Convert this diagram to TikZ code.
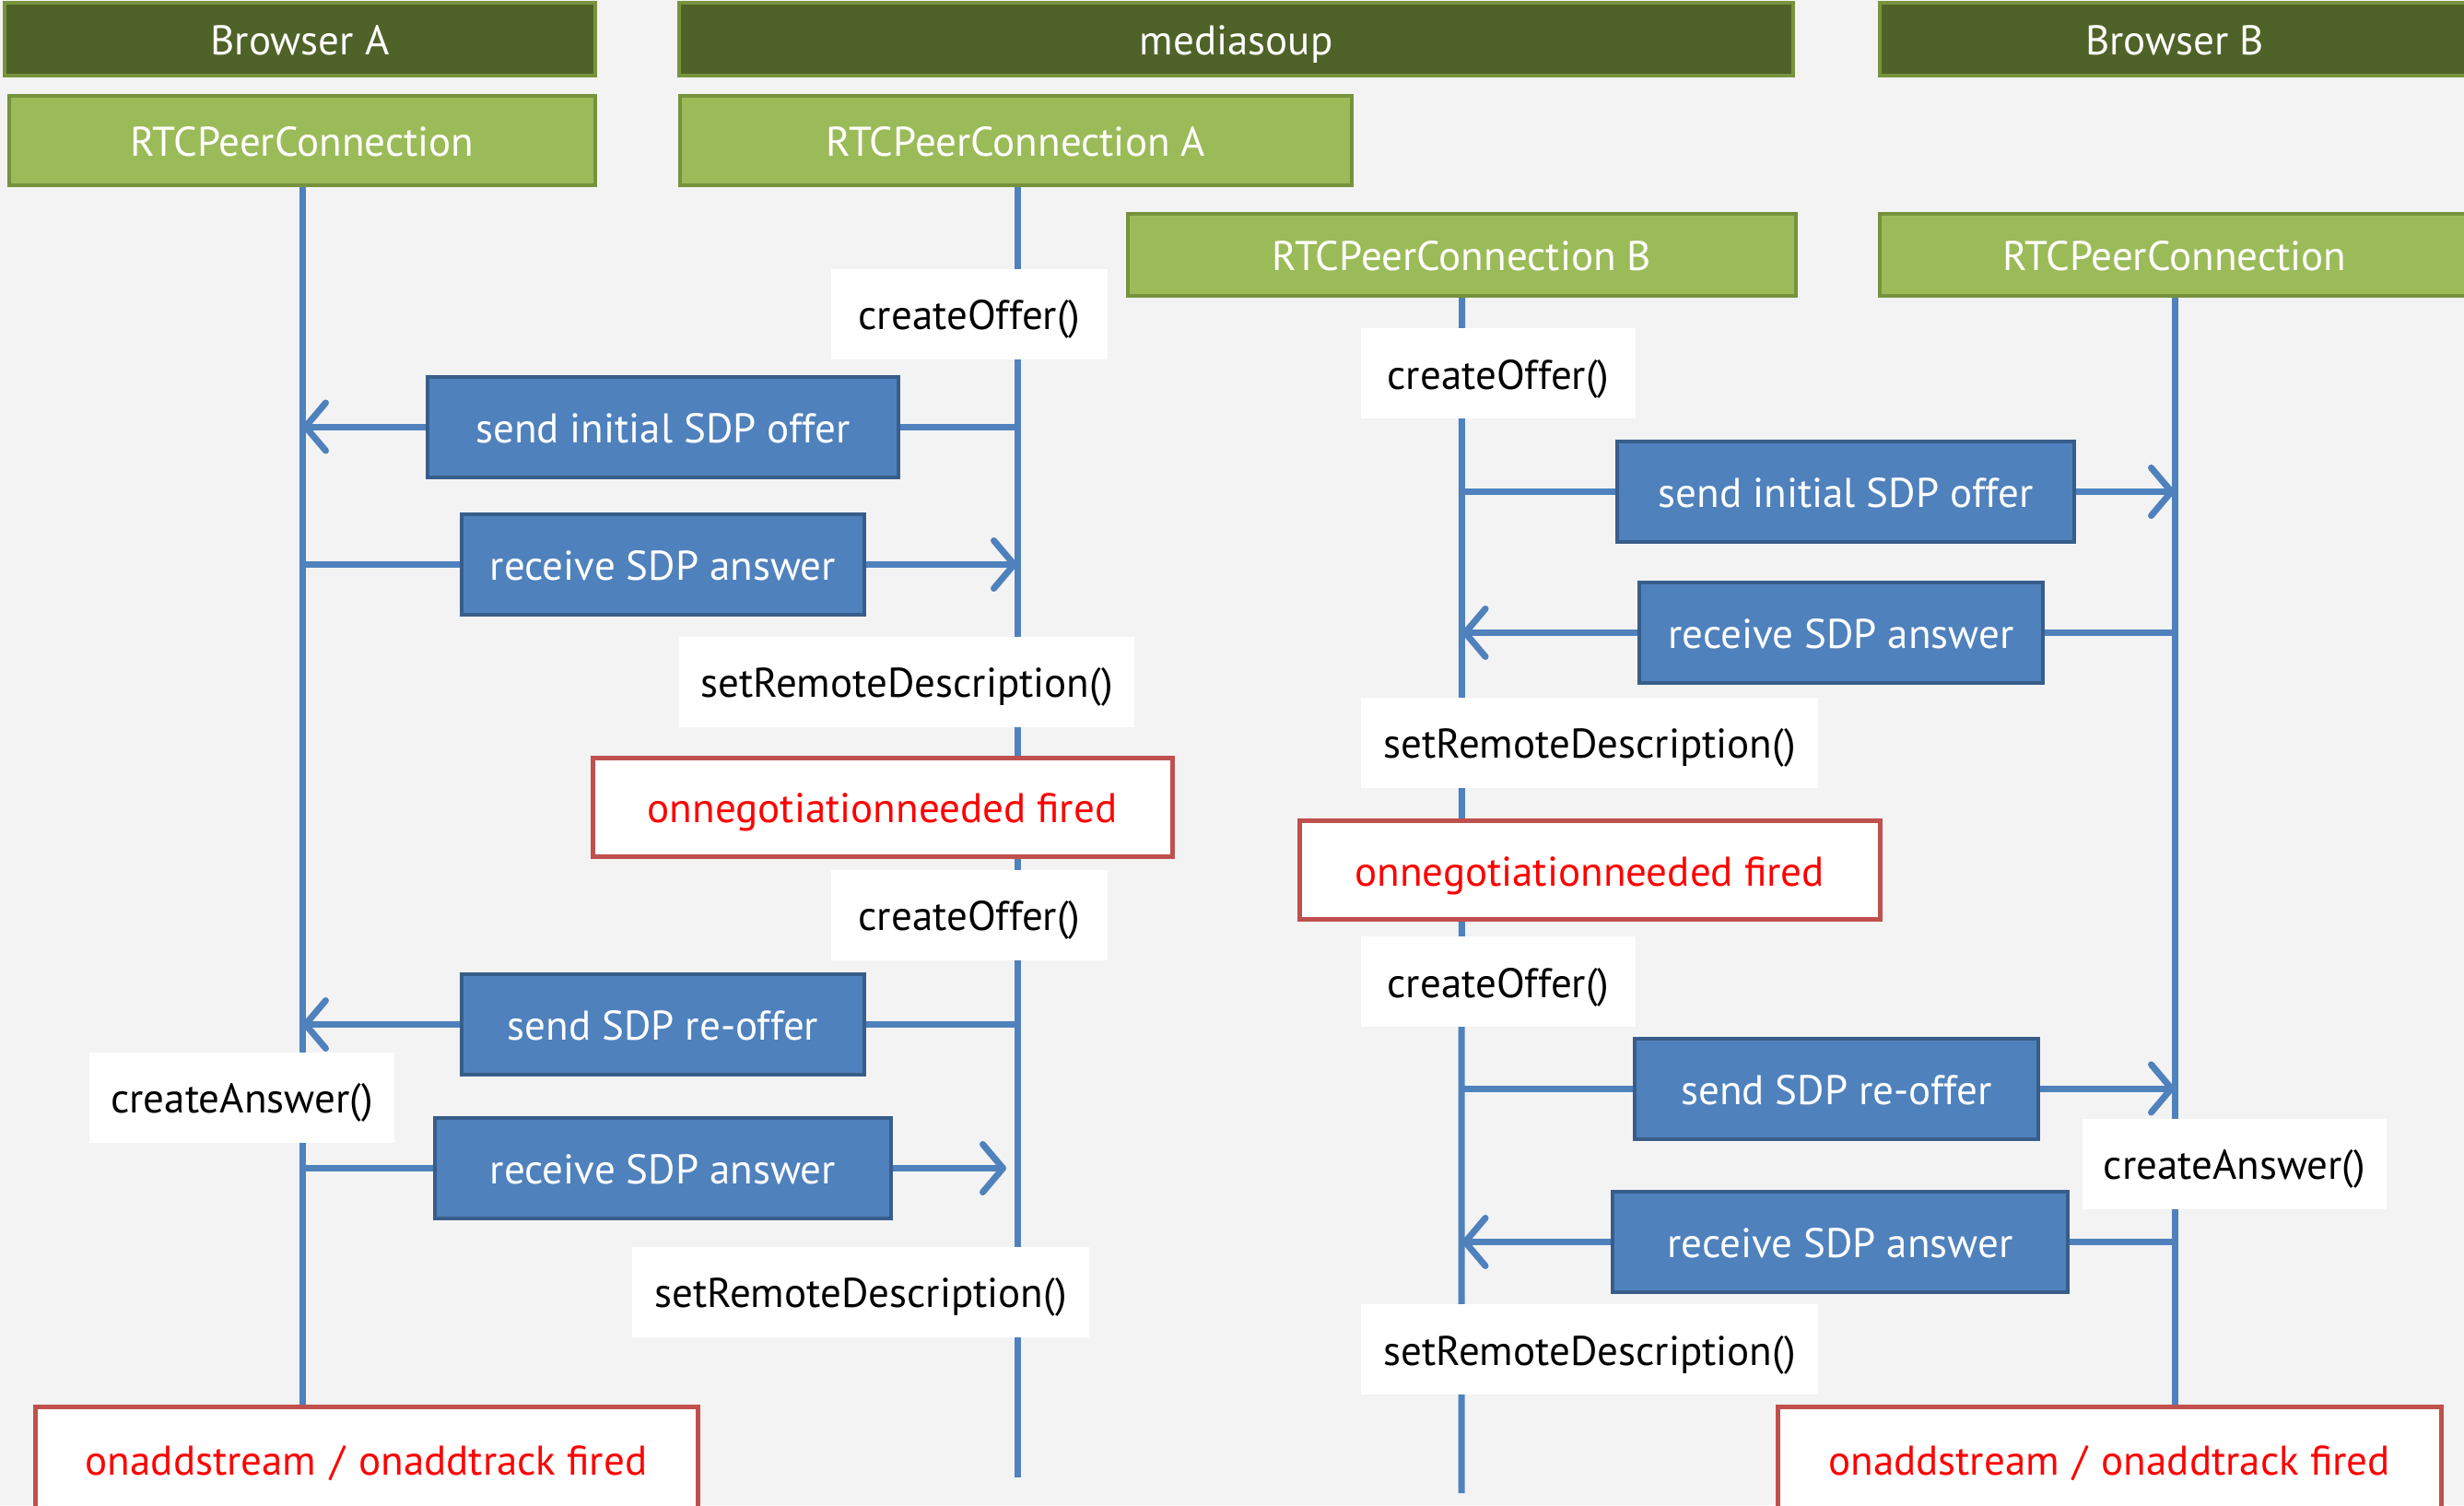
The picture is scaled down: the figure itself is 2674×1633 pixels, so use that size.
\documentclass[tikz,border=0pt]{standalone}
\usepackage{fontspec}
\setmainfont{PT Sans}
\usetikzlibrary{arrows.meta}
\definecolor{bgc}{HTML}{F3F3F3}
\definecolor{hdrf}{HTML}{4F6228}
\definecolor{hdrb}{HTML}{77933C}
\definecolor{rtcf}{HTML}{9BBB59}
\definecolor{rtcb}{HTML}{76923C}
\definecolor{msgf}{HTML}{4F81BD}
\definecolor{msgb}{HTML}{385D8A}
\definecolor{lifec}{HTML}{4F81BD}
\definecolor{evtb}{HTML}{C0504D}
\definecolor{evtt}{HTML}{FF0000}
\pgfdeclarelayer{bg}
\pgfsetlayers{bg,main}
\begin{document}
\begin{tikzpicture}[x=0.5pt,y=-0.5pt,
  every node/.style={font=\fontsize{22.5}{27}\selectfont, inner sep=0pt, rectangle, text height=19pt, text depth=2pt},
  hdr/.style={draw=hdrb, fill=hdrf, line width=2pt, text=white, minimum height=39.5pt},
  rtc/.style={draw=rtcb, fill=rtcf, line width=2pt, text=white},
  call/.style={fill=white, text=black, minimum height=49pt},
  evt/.style={draw=evtb, fill=white, line width=2.5pt, text=evtt},
  msg/.style={draw=msgb, fill=msgf, line width=2pt, text=white, minimum height=54.5pt},
  life/.style={draw=lifec, line width=3.5pt},
  arr/.style={life, -{Straight Barb[length=11pt,width=26pt,line cap=round,line join=round]}}]
\useasboundingbox (0,0) rectangle (2674,1633);
% headers
\node[hdr, minimum width=320.5pt] (hA) at (325.5,42.5) {Browser A};
\node[hdr, minimum width=604.5pt] (hM) at (1341.5,42.5) {mediasoup};
\node[hdr, minimum width=320pt] (hB) at (2360,42.5) {Browser B};
% peer connections
\node[rtc, minimum width=318pt, minimum height=48.5pt] (rA) at (328,152.5) {RTCPeerConnection};
\node[rtc, minimum width=364.5pt, minimum height=48.5pt] (rMA) at (1102.5,152.5) {RTCPeerConnection A};
\node[rtc, minimum width=362.5pt, minimum height=44.5pt] (rMB) at (1586.5,276.5) {RTCPeerConnection B};
\node[rtc, minimum width=320pt, minimum height=44.5pt] (rB) at (2360,276.5) {RTCPeerConnection};
% calls
\node[call, minimum width=150pt] (c1) at (1052,340.5) {createOffer()};
\node[call, minimum width=149pt] (c2) at (1626,405) {createOffer()};
\node[call, minimum width=247pt] (c3) at (984,739.5) {setRemoteDescription()};
\node[call, minimum width=248pt] (c4) at (1725,805.5) {setRemoteDescription()};
\node[call, minimum width=150pt] (c5) at (1052,992.5) {createOffer()};
\node[call, minimum width=149pt] (c6) at (1626,1065) {createOffer()};
\node[call, minimum width=165.5pt] (c7) at (262.5,1190.5) {createAnswer()};
\node[call, minimum width=165pt] (c8) at (2425,1262.5) {createAnswer()};
\node[call, minimum width=248pt] (c9) at (934,1401.5) {setRemoteDescription()};
\node[call, minimum width=248pt] (c10) at (1725,1464) {setRemoteDescription()};
% events
\node[evt, minimum width=314.5pt, minimum height=53.5pt] (e1) at (957.5,875.5) {onnegotiationneeded fired};
\node[evt, minimum width=315pt, minimum height=53.5pt] (e2) at (1725,944) {onnegotiationneeded fired};
\node[evt, minimum width=359.5pt, minimum height=57pt] (e3) at (397.5,1583) {onaddstream\,\,/\,\,onaddtrack fired};
\node[evt, minimum width=360pt, minimum height=57pt] (e4) at (2289,1583) {onaddstream\,\,/\,\,onaddtrack fired};
% messages
\node[msg, minimum width=255.5pt] (m1) at (719.5,463) {send initial SDP offer};
\node[msg, minimum width=218.5pt] (m2) at (719.5,612.5) {receive SDP answer};
\node[msg, minimum width=218.5pt] (m3) at (719.5,1111.5) {send SDP re-offer};
\node[msg, minimum width=247.5pt] (m4) at (719.5,1267.5) {receive SDP answer};
\node[msg, minimum width=248pt] (m5) at (2003,533.5) {send initial SDP offer};
\node[msg, minimum width=219pt] (m6) at (1998,686.5) {receive SDP answer};
\node[msg, minimum width=219pt] (m7) at (1993,1181) {send SDP re-offer};
\node[msg, minimum width=247pt] (m8) at (1997,1347.5) {receive SDP answer};
\coordinate (endMA) at (1104,1603);
\coordinate (endMB) at (1586,1620);
\begin{pgfonlayer}{bg}
\fill[bgc] (0,0) rectangle (2674,1633);
% lifelines
\draw[life] (rA.south) -- (rA.south |- e3.north);
\draw[life] (rMA.south -| endMA) -- (endMA);
\draw[life] (rMB.south) -- (endMB);
\draw[life] (rB.south) -- (rB.south |- e4.north);
% Browser A <-> mediasoup A
\draw[life] (m1.east -| endMA) -- (m1.east);
\draw[arr] (m1.west) -- (m1.west -| rA.south);
\draw[life] (m2.west -| rA.south) -- (m2.west);
\draw[arr] (m2.east) -- (m2.east -| endMA);
\draw[life] (m3.east -| endMA) -- (m3.east);
\draw[arr] (m3.west) -- (m3.west -| rA.south);
\draw[life] (m4.west -| rA.south) -- (m4.west);
\draw[arr] (m4.east) -- ([xshift=-6pt]m4.east -| endMA);
% mediasoup B <-> Browser B
\draw[life] (m5.west -| rMB.south) -- (m5.west);
\draw[arr] (m5.east) -- (m5.east -| rB.south);
\draw[life] (m6.east -| rB.south) -- (m6.east);
\draw[arr] (m6.west) -- (m6.west -| rMB.south);
\draw[life] (m7.west -| rMB.south) -- (m7.west);
\draw[arr] (m7.east) -- (m7.east -| rB.south);
\draw[life] (m8.east -| rB.south) -- (m8.east);
\draw[arr] (m8.west) -- (m8.west -| rMB.south);
\end{pgfonlayer}
\end{tikzpicture}
\end{document}
